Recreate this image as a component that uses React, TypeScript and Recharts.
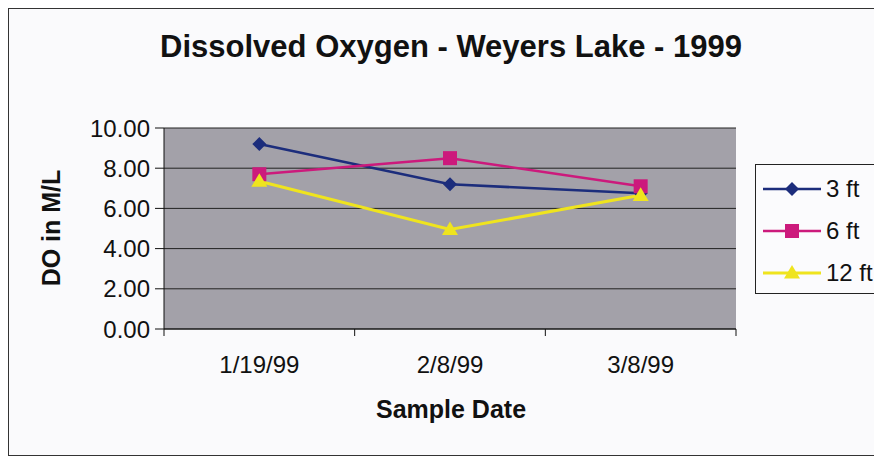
import React from "react";
import { LineChart, Line, XAxis, YAxis, CartesianGrid } from "recharts";

const dates = ["1/19/99", "2/8/99", "3/8/99"];
const do3ft = [9.2, 7.2, 6.75];
const do6ft = [7.7, 8.5, 7.1];
const do12ft = [7.35, 4.95, 6.65];
const yTicks = [0, 2, 4, 6, 8, 10];

const data = dates.map((d, i) => ({ date: d, a: do3ft[i], b: do6ft[i], c: do12ft[i] }));

const FONT = "'Liberation Sans', Arial, sans-serif";
const W = 874;
const H = 446;
const M = { top: 119, right: 147, left: 95, bottom: 96 };
const Y_W = 60;
const X_H = 30;
const plotW = W - M.left - Y_W - M.right;
const half = plotW / dates.length / 2;

const XTick = (props: any) => {
  const { x, y, payload } = props;
  return (
    <g>
      <line x1={x - half} x2={x - half} y1={y - 8} y2={y - 1} stroke="#111" />
      {payload.index === dates.length - 1 && (
        <line x1={x + half} x2={x + half} y1={y - 8} y2={y - 1} stroke="#111" />
      )}
      <text x={x} y={y + 36} textAnchor="middle" fontSize={24} fontFamily={FONT} fill="#111">
        {payload.value}
      </text>
    </g>
  );
};

const Diamond = (props: any) => {
  const { cx, cy, fill } = props;
  if (cx == null || cy == null) return null;
  const r = 7;
  return <path d={`M${cx},${cy - r}L${cx + r},${cy}L${cx},${cy + r}L${cx - r},${cy}Z`} fill={fill} />;
};
const Square = (props: any) => {
  const { cx, cy, fill } = props;
  if (cx == null || cy == null) return null;
  const r = 7;
  return <rect x={cx - r} y={cy - r} width={2 * r} height={2 * r} fill={fill} />;
};
const Triangle = (props: any) => {
  const { cx, cy, fill } = props;
  if (cx == null || cy == null) return null;
  const r = 8;
  return <path d={`M${cx},${cy - r}L${cx + r},${cy + r * 0.7}L${cx - r},${cy + r * 0.7}Z`} fill={fill} />;
};

const series = [
  { key: "a", name: "3 ft", color: "#1c2d7c", Shape: Diamond, w: 2.5 },
  { key: "b", name: "6 ft", color: "#cc1a7c", Shape: Square, w: 2.5 },
  { key: "c", name: "12 ft", color: "#efe41e", Shape: Triangle, w: 3 },
];

const LegendBox = () => (
  <div
    style={{
      position: "absolute",
      left: 746,
      top: 155,
      border: "1px solid #222",
      background: "#fbfbfd",
      width: 150,
      height: 130,
      boxSizing: "border-box",
      padding: "3px 0 0 7px",
      fontFamily: FONT,
      fontSize: 24,
    }}
  >
    {series.map((s) => (
      <div key={s.key} style={{ display: "flex", alignItems: "center", height: 42 }}>
        <svg width={58} height={20}>
          <line x1={0} x2={58} y1={10} y2={10} stroke={s.color} strokeWidth={s.w} />
          <s.Shape cx={29} cy={10} fill={s.color} />
        </svg>
        <span style={{ marginLeft: 5, color: "#111" }}>{s.name}</span>
      </div>
    ))}
  </div>
);

export default function App() {
  return (
    <div
      style={{
        position: "relative",
        width: W,
        height: 448,
        border: "1px solid #333",
        borderRight: "none",
        boxSizing: "border-box",
        background: "#fafafc",
        fontFamily: FONT,
        overflow: "hidden",
      }}
    >
      <div
        style={{
          position: "absolute",
          left: 0,
          width: 884,
          top: 20,
          textAlign: "center",
          fontSize: 31,
          fontWeight: "bold",
          color: "#111",
        }}
      >
        Dissolved Oxygen - Weyers Lake - 1999
      </div>
      <div
        style={{
          position: "absolute",
          left: 42,
          top: 219,
          transform: "translate(-50%, -50%) rotate(-90deg)",
          fontSize: 25,
          fontWeight: "bold",
          whiteSpace: "nowrap",
          color: "#111",
        }}
      >
        DO in M/L
      </div>
      <div
        style={{
          position: "absolute",
          left: 0,
          width: 884,
          top: 386,
          textAlign: "center",
          fontSize: 25,
          fontWeight: "bold",
          color: "#111",
        }}
      >
        Sample Date
      </div>
      <LegendBox />
      <LineChart width={W} height={H} data={data} margin={M}>
        <CartesianGrid horizontal vertical={false} stroke="#222" fill="#a3a1a9" />
        <XAxis
          dataKey="date"
          height={X_H}
          padding={{ left: half, right: half }}
          axisLine={{ stroke: "#111" }}
          tickLine={false}
          tick={<XTick />}
          interval={0}
        />
        <YAxis
          width={Y_W}
          domain={[0, 10]}
          ticks={yTicks}
          interval={0}
          tickFormatter={(v: number) => v.toFixed(2)}
          axisLine={{ stroke: "#111" }}
          tickLine={{ stroke: "#111" }}
          tickSize={9}
          tickMargin={5}
          tick={{ fontSize: 24, fontFamily: FONT, fill: "#111" }}
        />
        {series.map((s) => (
          <Line
            key={s.key}
            dataKey={s.key}
            name={s.name}
            stroke={s.color}
            strokeWidth={s.w}
            dot={<s.Shape fill={s.color} />}
            activeDot={false}
            isAnimationActive={false}
          />
        ))}
      </LineChart>
    </div>
  );
}
